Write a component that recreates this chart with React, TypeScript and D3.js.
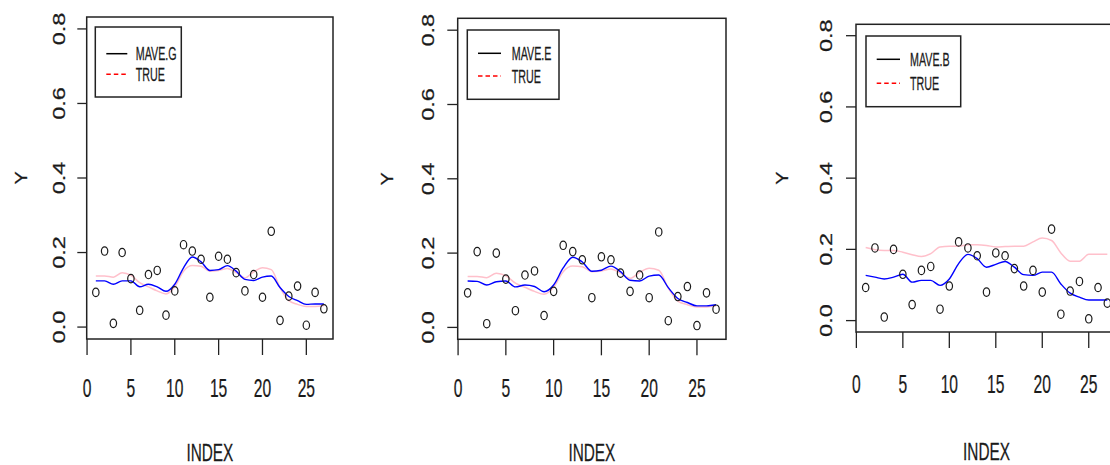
import React from 'react';
import * as d3 from 'd3';

// observation index and observed responses (same in all three panels)
const INDEX = [1, 2, 3, 4, 5, 6, 7, 8, 9, 10, 11, 12, 13, 14, 15, 16, 17, 18, 19, 20, 21, 22, 23, 24, 25, 26, 27];
const Y_OBS = [0.093, 0.204, 0.010, 0.200, 0.130, 0.045, 0.141, 0.152, 0.032, 0.097, 0.221, 0.204, 0.182, 0.080,
    0.190, 0.182, 0.146, 0.097, 0.141, 0.080, 0.257, 0.018, 0.083, 0.110, 0.005, 0.093, 0.049];

// fitted curves (blue)
const FIT_G = [0.124, 0.124, 0.115, 0.124, 0.124, 0.108, 0.115, 0.108, 0.096, 0.115, 0.159, 0.188, 0.175, 0.152,
    0.154, 0.165, 0.150, 0.128, 0.125, 0.134, 0.137, 0.106, 0.082, 0.071, 0.061, 0.062, 0.062];
const FIT_E = [0.125, 0.124, 0.114, 0.123, 0.125, 0.109, 0.114, 0.110, 0.096, 0.114, 0.160, 0.189, 0.176, 0.151,
    0.154, 0.165, 0.150, 0.127, 0.125, 0.138, 0.141, 0.107, 0.078, 0.067, 0.058, 0.058, 0.061];
const FIT_B = [0.127, 0.122, 0.117, 0.122, 0.130, 0.108, 0.113, 0.113, 0.099, 0.117, 0.160, 0.186, 0.174, 0.150,
    0.158, 0.166, 0.150, 0.129, 0.127, 0.136, 0.136, 0.103, 0.077, 0.066, 0.058, 0.058, 0.058];

// true curves (pink)
const TRUE_GE = [0.137, 0.137, 0.134, 0.146, 0.139, 0.119, 0.108, 0.097, 0.089, 0.108, 0.150, 0.165, 0.163, 0.150,
    0.152, 0.157, 0.146, 0.132, 0.148, 0.159, 0.154, 0.106, 0.071, 0.061, 0.055, 0.055, 0.058];
const TRUE_B = [0.205, 0.199, 0.197, 0.197, 0.192, 0.185, 0.180, 0.188, 0.207, 0.209, 0.209, 0.213, 0.213, 0.211,
    0.207, 0.208, 0.209, 0.209, 0.221, 0.232, 0.225, 0.190, 0.167, 0.167, 0.186, 0.186, 0.186];

const X_TICKS = [0, 5, 10, 15, 20, 25];
const Y_TICKS = [0.0, 0.2, 0.4, 0.6, 0.8];
const LEGEND_NAMES = ['MAVE.G', 'MAVE.E', 'MAVE.B'];

const FONT = '"Liberation Sans", Arial, sans-serif';
const INK = '#1a1a1a';

const PANELS = [
    {
        name: LEGEND_NAMES[0], fit: FIT_G, truth: TRUE_GE,
        left: 86.7, right: 333, top: 17, bottom: 339,
        yTickX: 77.3, yLabBase: 65, yTitleBase: 26.7, xLabBase: 396.7, xTitleBase: 460.7,
        leg: { x0: 95.3, x1: 181.3, y0: 27, y1: 97, lx0: 106.3, lx1: 127.3, l1: 53.7, l2: 74.3, tx: 135.7 },
    },
    {
        name: LEGEND_NAMES[1], fit: FIT_E, truth: TRUE_GE,
        left: 457.7, right: 726, top: 18.3, bottom: 339.3,
        yTickX: 447.3, yLabBase: 434, yTitleBase: 392.7, xLabBase: 396.7, xTitleBase: 460.7,
        leg: { x0: 467.3, x1: 559, y0: 30, y1: 99.3, lx0: 478, lx1: 501, l1: 53.3, l2: 76, tx: 511.7 },
    },
    {
        name: LEGEND_NAMES[2], fit: FIT_B, truth: TRUE_B,
        left: 856, right: 1117, top: 24.3, bottom: 332,
        yTickX: 846, yLabBase: 831.7, yTitleBase: 788.3, xLabBase: 393, xTitleBase: 460,
        leg: { x0: 866, x1: 960.7, y0: 36, y1: 106.7, lx0: 876.7, lx1: 900, l1: 59.3, l2: 83.3, tx: 910 },
    },
];

function Panel({ p })
{
    // R style 4% axis extension around xlim c(1,27) and ylim c(0,0.8)
    const x = d3.scaleLinear().domain([-0.04, 28.04]).range([p.left, p.right]);
    const y = d3.scaleLinear().domain([-0.032, 0.832]).range([p.bottom, p.top]);
    const line = d3.line<number>()
        .x((_, i) => x(INDEX[i]))
        .y((d) => y(d))
        .curve(d3.curveMonotoneX);
    const midX = (p.left + p.right) / 2;
    const midY = (p.top + p.bottom) / 2;

    return (
        <g fontFamily={FONT} fill={INK} stroke={INK} strokeWidth={0.25}>
            <path d={line(p.truth) || ''} fill="none" stroke="#ffc0cb" strokeWidth={1.5} />
            <path d={line(p.fit) || ''} fill="none" stroke="#0000ff" strokeWidth={1.4} />
            {Y_OBS.map((v, i) => (
                <ellipse key={i} cx={x(INDEX[i])} cy={y(v)} rx={3.2} ry={4.2}
                    fill="none" stroke={INK} strokeWidth={1.2} />
            ))}

            <rect x={p.left} y={p.top} width={p.right - p.left} height={p.bottom - p.top}
                fill="none" stroke="#222" strokeWidth={1.5} />

            {Y_TICKS.map((t) => (
                <g key={t}>
                    <line x1={p.yTickX} x2={p.left} y1={y(t)} y2={y(t)} stroke="#222" strokeWidth={1.3} />
                    <text fontSize={16.8} textAnchor="middle"
                        transform={`translate(${ p.yLabBase },${ y(t) }) rotate(-90) scale(1.4,1)`}>
                        {t.toFixed(1)}
                    </text>
                </g>
            ))}
            {X_TICKS.map((t) => (
                <g key={t}>
                    <line x1={x(t)} x2={x(t)} y1={p.bottom} y2={p.bottom + 16} stroke="#222" strokeWidth={1.3} />
                    <text fontSize={26.5} textAnchor="middle"
                        transform={`translate(${ x(t) },${ p.xLabBase }) scale(0.59,1)`}>
                        {t}
                    </text>
                </g>
            ))}

            <text fontSize={24} textAnchor="middle"
                transform={`translate(${ midX },${ p.xTitleBase }) scale(0.64,1)`}>INDEX</text>
            <text fontSize={16.5} textAnchor="middle"
                transform={`translate(${ p.yTitleBase },${ midY }) rotate(-90) scale(1.2,1)`}>Y</text>

            <rect x={p.leg.x0} y={p.leg.y0} width={p.leg.x1 - p.leg.x0} height={p.leg.y1 - p.leg.y0}
                fill="white" stroke="#222" strokeWidth={1.5} />
            <line x1={p.leg.lx0} x2={p.leg.lx1} y1={p.leg.l1} y2={p.leg.l1} stroke="#000" strokeWidth={1.5} />
            <line x1={p.leg.lx0} x2={p.leg.lx1} y1={p.leg.l2} y2={p.leg.l2} stroke="#ff0000" strokeWidth={1.5}
                strokeDasharray="4.5,3" />
            <text fontSize={18.5} transform={`translate(${ p.leg.tx },${ p.leg.l1 + 6.5 }) scale(0.58,1)`}>{p.name}</text>
            <text fontSize={18.5} transform={`translate(${ p.leg.tx },${ p.leg.l2 + 6.5 }) scale(0.58,1)`}>TRUE</text>
        </g>
    );
}

export default function App()
{
    return (
        <svg width={1110} height={465} style={{ position: 'absolute', left: 0, top: 0, background: 'white' }}>
            <rect width={1110} height={465} fill="white" stroke="none" />
            {PANELS.map((p) => <Panel key={p.name} p={p} />)}
        </svg>
    );
}
